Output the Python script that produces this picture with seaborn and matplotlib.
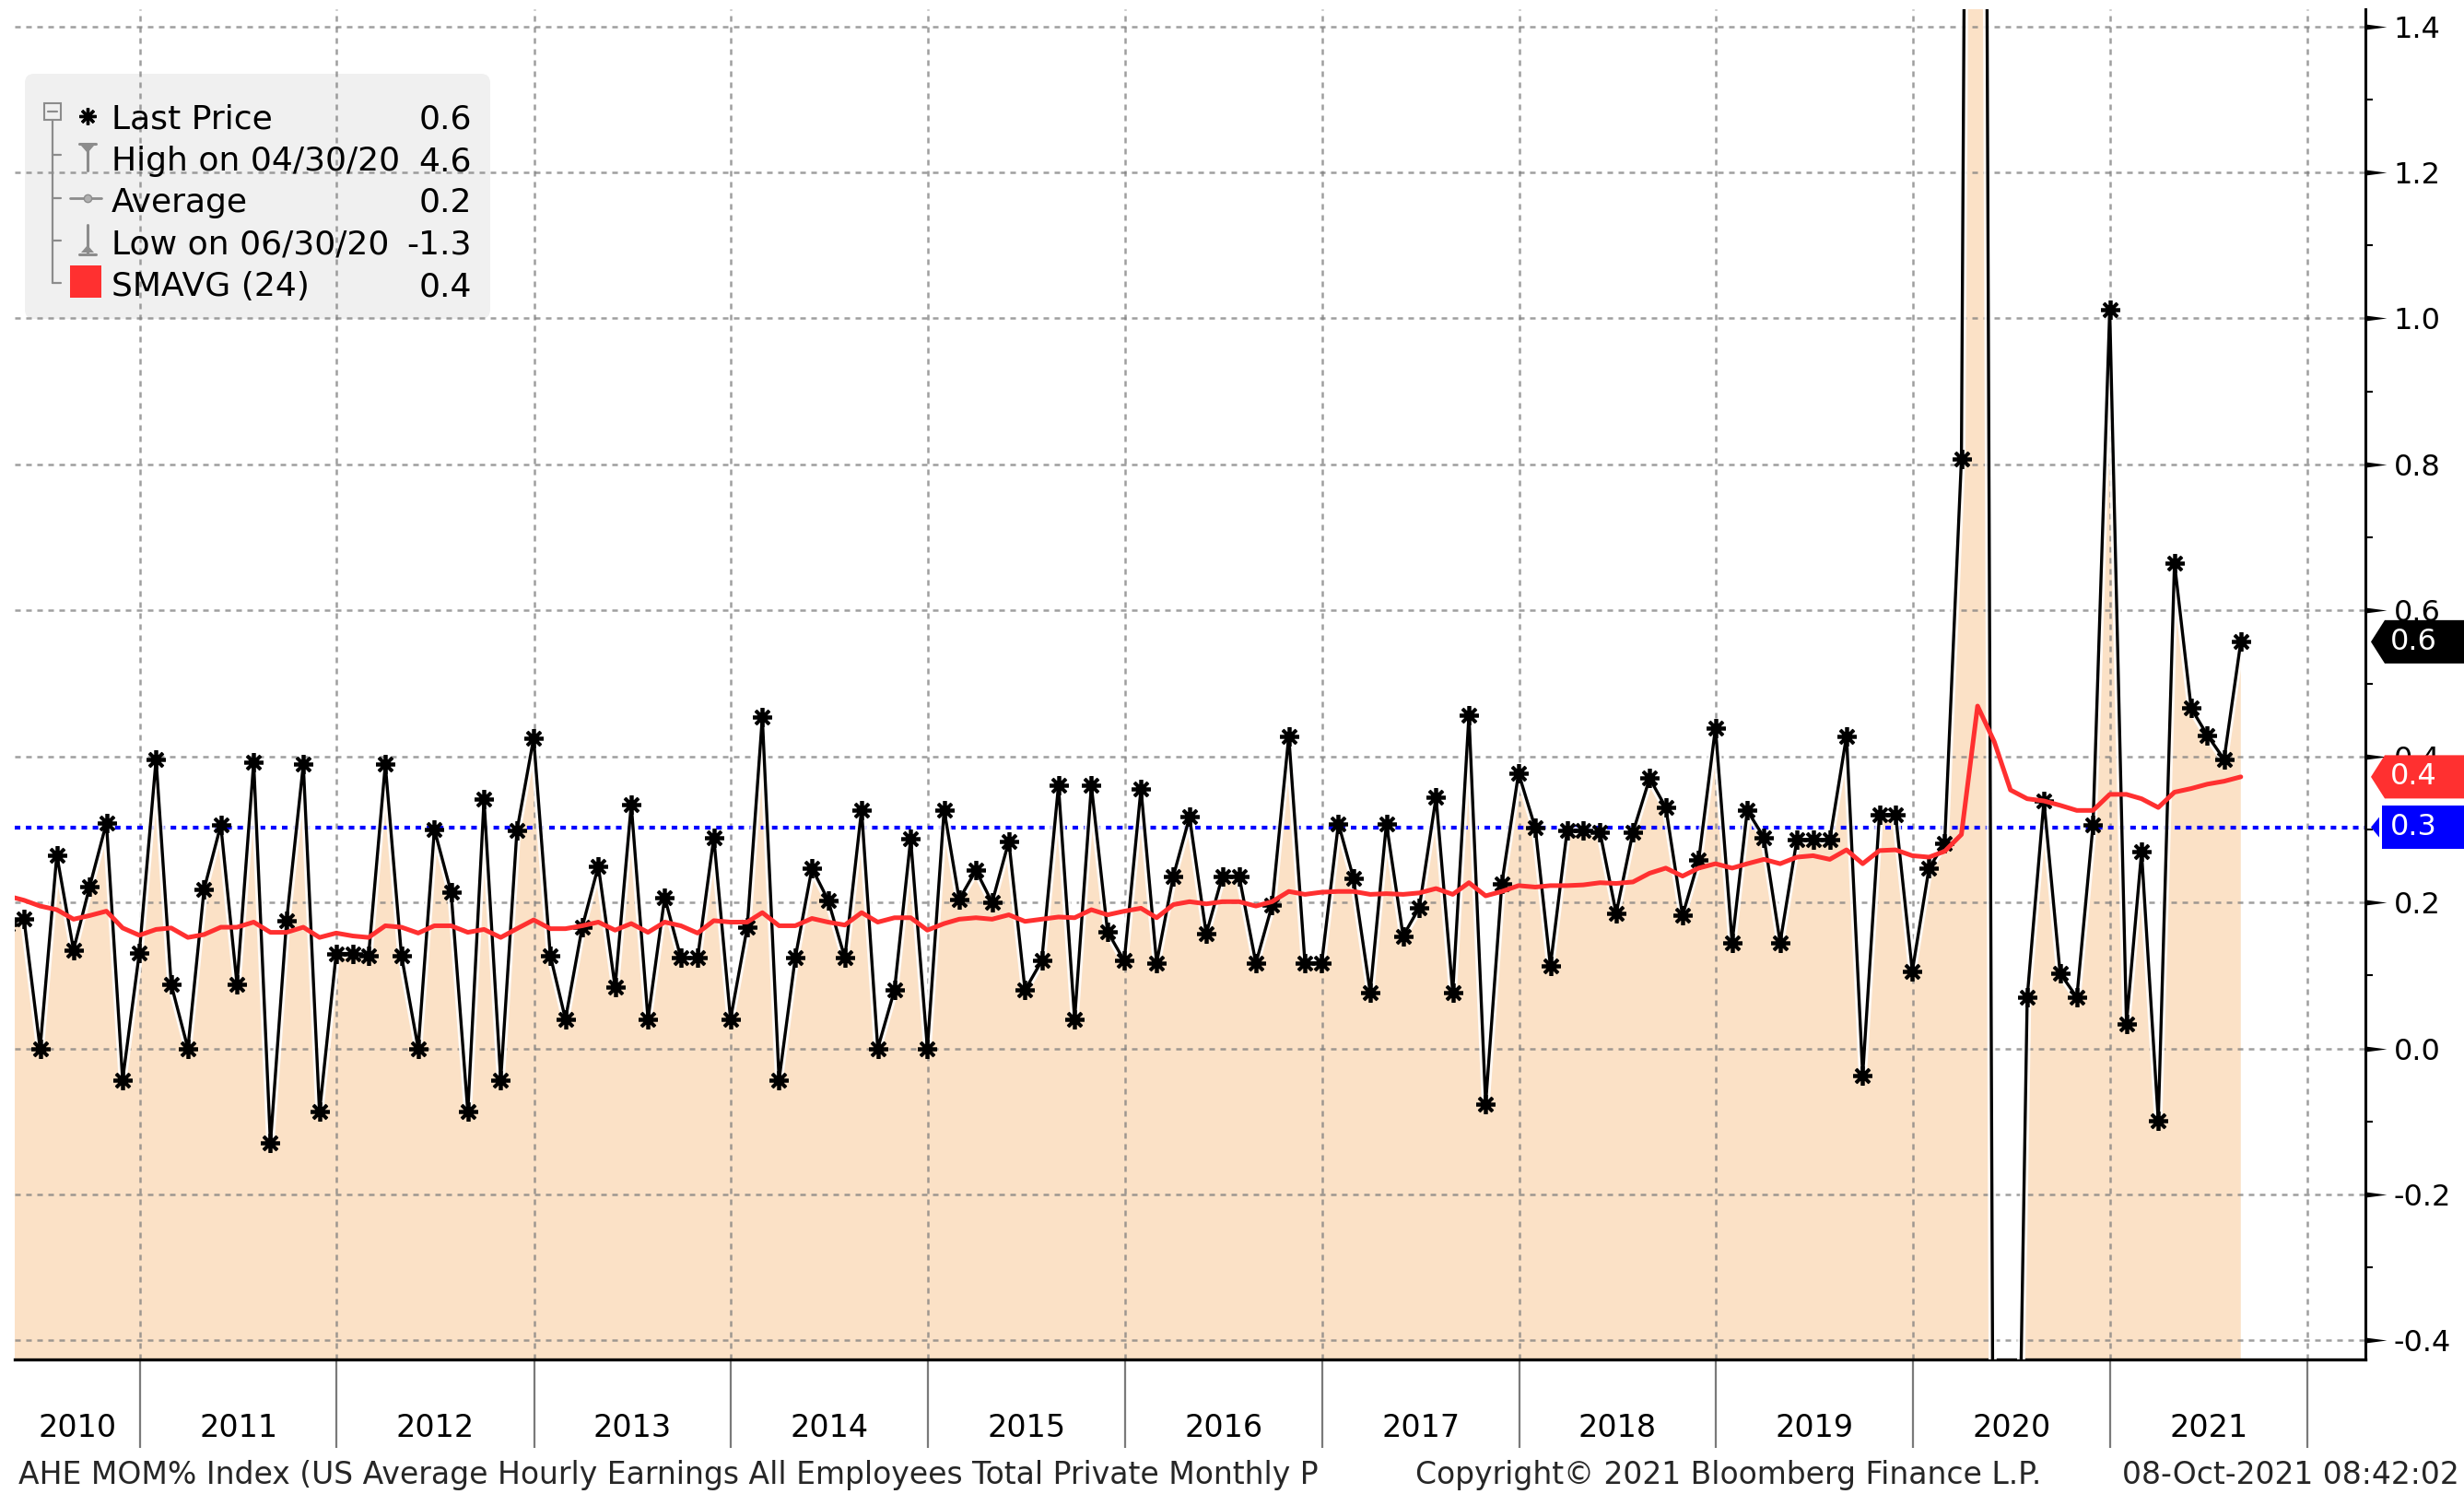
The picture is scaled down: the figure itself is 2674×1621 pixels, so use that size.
import numpy as np
import pandas as pd
import matplotlib
matplotlib.use("Agg")
import matplotlib.pyplot as plt
import matplotlib.dates as mdates
import matplotlib.transforms as mtransforms
import matplotlib.ticker as mticker
import matplotlib.patheffects as pe
from matplotlib.path import Path
from matplotlib.patches import Polygon, Rectangle, FancyBboxPatch
from matplotlib.lines import Line2D
import seaborn as sns

# ---------------- data ----------------
START_MONTH = "2010-04"   # month-end observations

last_price = [
    0.17, 0.178, 0.0, 0.265, 0.135, 0.222, 0.309, -0.043, 0.131,                 # 2010 Apr-Dec
    0.396, 0.088, 0.0, 0.218, 0.306, 0.088, 0.392, -0.130, 0.175, 0.389, -0.087, 0.130,  # 2011
    0.130, 0.127, 0.389, 0.127, 0.0, 0.30, 0.214, -0.087, 0.341, -0.043, 0.298, 0.425,  # 2012
    0.127, 0.040, 0.166, 0.250, 0.084, 0.334, 0.040, 0.207, 0.124, 0.124, 0.289, 0.040, # 2013
    0.166, 0.454, -0.043, 0.124, 0.247, 0.203, 0.124, 0.327, 0.0, 0.080, 0.287, 0.0,    # 2014
    0.327, 0.204, 0.244, 0.200, 0.284, 0.080, 0.120, 0.360, 0.040, 0.360, 0.160, 0.120, # 2015
    0.356, 0.117, 0.236, 0.317, 0.157, 0.236, 0.236, 0.117, 0.196, 0.428, 0.117, 0.117, # 2016
    0.308, 0.233, 0.077, 0.308, 0.154, 0.193, 0.344, 0.077, 0.457, -0.076, 0.226, 0.377, # 2017
    0.302, 0.113, 0.298, 0.298, 0.296, 0.185, 0.296, 0.370, 0.330, 0.182, 0.258, 0.439, # 2018
    0.145, 0.326, 0.289, 0.145, 0.286, 0.286, 0.286, 0.428, -0.037, 0.320, 0.320, 0.106, # 2019
    0.247, 0.281, 0.807, 4.6, -1.0, -1.3, 0.070, 0.339, 0.103, 0.070, 0.306, 1.012,      # 2020
    0.034, 0.269, -0.099, 0.665, 0.466, 0.429, 0.396, 0.557,                            # 2021 Jan-Aug
]

smavg_24 = [
    0.209, 0.203, 0.195, 0.190, 0.177, 0.182, 0.188, 0.165, 0.155,
    0.163, 0.165, 0.152, 0.156, 0.166, 0.166, 0.173, 0.159, 0.159, 0.166, 0.152, 0.158,
    0.154, 0.152, 0.168, 0.166, 0.158, 0.168, 0.168, 0.159, 0.163, 0.152, 0.164, 0.176,
    0.164, 0.164, 0.168, 0.173, 0.162, 0.171, 0.159, 0.173, 0.168, 0.158, 0.175, 0.173,
    0.173, 0.186, 0.168, 0.168, 0.178, 0.173, 0.169, 0.186, 0.173, 0.179, 0.179, 0.162,
    0.171, 0.177, 0.179, 0.177, 0.183, 0.174, 0.177, 0.180, 0.179, 0.190, 0.183, 0.188,
    0.192, 0.179, 0.197, 0.201, 0.198, 0.201, 0.201, 0.195, 0.201, 0.215, 0.211, 0.214,
    0.215, 0.215, 0.211, 0.212, 0.211, 0.213, 0.219, 0.211, 0.227, 0.209, 0.215, 0.223,
    0.221, 0.223, 0.223, 0.224, 0.227, 0.226, 0.228, 0.240, 0.247, 0.236, 0.247, 0.253,
    0.247, 0.253, 0.259, 0.253, 0.262, 0.264, 0.259, 0.272, 0.253, 0.271, 0.272, 0.264,
    0.262, 0.270, 0.293, 0.469, 0.420, 0.354, 0.342, 0.339, 0.333, 0.326, 0.326, 0.348,
    0.348, 0.342, 0.330, 0.351, 0.356, 0.362, 0.366, 0.372,
]

avg_line_value = 0.303
y_ticks = [-0.4, -0.2, 0.0, 0.2, 0.4, 0.6, 0.8, 1.0, 1.2, 1.4]
y_tick_labels = ["-0.4", "-0.2", "0.0", "0.2", "0.4", "0.6", "0.8", "1.0", "1.2", "1.4"]
year_labels = [2010, 2011, 2012, 2013, 2014, 2015, 2016, 2017, 2018, 2019, 2020, 2021]

legend_labels = ["Last Price", "High on 04/30/20", "Average", "Low on 06/30/20", "SMAVG (24)"]
legend_values = ["0.6", "4.6", "0.2", "-1.3", "0.4"]
tag_values = [0.557, 0.372, 0.303]
tag_labels = ["0.6", "0.4", "0.3"]

footer_left = "AHE MOM% Index (US Average Hourly Earnings All Employees Total Private Monthly P"
footer_mid = "Copyright\u00a9 2021 Bloomberg Finance L.P."
footer_right = "08-Oct-2021 08:42:02"

X_START, X_END = "2010-05-14", "2022-04-19"
Y_MIN, Y_MAX = -0.4261, 1.4236

# ---------------- styling ----------------
FILL = "#FBE1C6"
RED = "#FF3030"
BLUE = "#0000FF"
GRID = "#7f7f7f"
ICON_GRAY = "#8c8c8c"

sns.set_style("white")
plt.rcParams["font.family"] = ["DejaVu Sans"]

W, H = 2674, 1621
fig = plt.figure(figsize=(W / 100, H / 100), dpi=100)
fig.patch.set_facecolor("white")
ax = fig.add_axes([16 / W, 1 - 1475 / H, (2567 - 16) / W, (1475 - 10) / H])
ax.set_facecolor("white")

dates = pd.period_range(START_MONTH, periods=len(last_price), freq="M").to_timestamp(how="end").normalize()
df = pd.DataFrame({"date": dates, "last": last_price, "sma": smavg_24})

# area under the price line
ax.fill_between(df["date"], df["last"], Y_MIN - 5, color=FILL, lw=0, zorder=1)

# price line with white halo
sns.lineplot(data=df, x="date", y="last", ax=ax, color="black", lw=2.4, zorder=3,
             path_effects=[pe.Stroke(linewidth=6.4, foreground="white", alpha=0.85), pe.Normal()])
# asterisk markers
sns.lineplot(data=df, x="date", y="last", ax=ax, color="black", linestyle="",
             marker=(8, 2, 0), markersize=15, markeredgewidth=2.7,
             markeredgecolor="black", zorder=3.5)
# 24-month simple moving average
sns.lineplot(data=df, x="date", y="sma", ax=ax, color=RED, lw=3.6, zorder=4)

# blue dotted reference line
ax.axhline(avg_line_value, color=BLUE, lw=3.0, linestyle=(0, (1.45, 1.45)), zorder=2)

# axes limits
ax.set_xlim(pd.Timestamp(X_START), pd.Timestamp(X_END))
ax.set_ylim(Y_MIN, Y_MAX)
ax.set_xlabel("")
ax.set_ylabel("")

# grid above the fill
ax.set_axisbelow("line")
ax.yaxis.grid(True, color=GRID, alpha=0.75, lw=1.8, linestyle=(0, (2.4, 2.4)))
ax.xaxis.grid(True, which="major", color=GRID, alpha=0.75, lw=1.8, linestyle=(0, (2.4, 2.4)))

# spines
for s in ["top", "left"]:
    ax.spines[s].set_visible(False)
ax.spines["bottom"].set_color("black")
ax.spines["bottom"].set_linewidth(2.4)
ax.spines["right"].set_color("black")
ax.spines["right"].set_linewidth(2.2)

# y axis on the right
ax.yaxis.tick_right()
ax.set_yticks(y_ticks)
ax.set_yticklabels(y_tick_labels)
ax.yaxis.set_minor_locator(mticker.FixedLocator(list(np.array(y_ticks[:-1]) + 0.1)))
ax.tick_params(axis="y", which="major", length=16.5, width=0, pad=5.6, labelsize=23,
               labelcolor="black", right=True, left=False)
ax.tick_params(axis="y", which="minor", length=6, width=1.5, color="black", right=True, left=False)

# wedge-shaped major ticks
wedge = Path([(0, -0.13), (0, 0.13), (1, 0), (0, -0.13)],
             [Path.MOVETO, Path.LINETO, Path.LINETO, Path.CLOSEPOLY])
ax.plot(np.ones(len(y_ticks)), y_ticks, transform=ax.get_yaxis_transform(), ls="none",
        marker=wedge, markersize=33, color="black", markeredgewidth=0, clip_on=False, zorder=5)

# x axis: year boundaries as long ticks, labels centred on visible part of each year
ax.xaxis.set_major_locator(mdates.YearLocator())
ax.xaxis.set_major_formatter(mticker.NullFormatter())
x0 = mdates.date2num(pd.Timestamp(X_START))
x1 = mdates.date2num(pd.Timestamp(X_END))
label_pos = []
for yr in year_labels:
    a = max(mdates.date2num(pd.Timestamp(f"{yr}-01-01")), x0)
    b = min(mdates.date2num(pd.Timestamp(f"{yr + 1}-01-01")), x1)
    label_pos.append((a + b) / 2)
ax.xaxis.set_minor_locator(mticker.FixedLocator(label_pos))
ax.xaxis.set_minor_formatter(mticker.FixedFormatter([str(y) for y in year_labels]))
ax.tick_params(axis="x", which="major", direction="out", length=69, width=1.6,
               color="#7a7a7a", bottom=True)
ax.tick_params(axis="x", which="minor", length=0, pad=42, labelsize=24, labelcolor="black",
               bottom=True)

# ---------------- value tags on the right ----------------
def tag(value, label, color, arrow):
    tr = fig.dpi_scale_trans + mtransforms.ScaledTranslation(1.0, value, ax.get_yaxis_transform())
    hh = 23.5
    if arrow == "full":
        verts = [(6, 0), (21, hh), (107, hh), (107, -hh), (21, -hh)]
        ax.add_patch(Polygon(np.array(verts) / 100.0, closed=True, transform=tr, fc=color,
                             ec="none", clip_on=False, zorder=6))
    else:
        tri = [(6, 0), (15, 11), (15, -11)]
        ax.add_patch(Polygon(np.array(tri) / 100.0, closed=True, transform=tr, fc=color,
                             ec="none", clip_on=False, zorder=6))
        box = [(18, -hh), (18, hh), (107, hh), (107, -hh)]
        ax.add_patch(Polygon(np.array(box) / 100.0, closed=True, transform=tr, fc=color,
                             ec="none", clip_on=False, zorder=6))
    ax.text(0.265, 0, label, transform=tr, color="white", fontsize=23, ha="left",
            va="center", clip_on=False, zorder=7)

tag(tag_values[0], tag_labels[0], "black", "full")
tag(tag_values[1], tag_labels[1], RED, "full")
tag(tag_values[2], tag_labels[2], BLUE, "split")

# ---------------- legend panel (pixel coordinates, top-left origin) ----------------
px = mtransforms.Affine2D().scale(1 / W, -1 / H).translate(0, 1) + fig.transFigure

ax.add_patch(FancyBboxPatch((27, 80), 505, 266, boxstyle="round,pad=0,rounding_size=10",
                            transform=px, fc="#F0F0F0", ec="none", zorder=1.2, clip_on=False))

def pline(xs, ys, color=ICON_GRAY, lw=1.6, z=6):
    ax.add_line(Line2D(xs, ys, transform=px, color=color, lw=lw, clip_on=False, zorder=z))

# tree structure
ax.add_patch(Rectangle((48, 112), 18, 18, transform=px, fill=False, ec=ICON_GRAY, lw=1.5,
                       clip_on=False, zorder=6))
pline([52, 62], [121, 121])
pline([57, 57], [130, 307])
for yy in [168, 215, 261, 307]:
    pline([57, 66], [yy, yy])

# icons
ax.plot([95], [126], transform=px, marker=(8, 2, 0), markersize=13, markeredgewidth=2.4,
        color="black", clip_on=False, zorder=6)
pline([86, 104], [156, 156], lw=2.2)
ax.add_patch(Polygon([(88, 158), (102, 158), (95, 166)], transform=px, fc=ICON_GRAY,
                     ec="none", clip_on=False, zorder=6))
pline([95, 95], [156, 185], lw=2.2)
pline([76, 110], [215, 215], lw=2.0)
ax.plot([95], [215], transform=px, marker="o", markersize=6, color="#b0b0b0",
        markeredgecolor=ICON_GRAY, clip_on=False, zorder=6)
pline([95, 95], [244, 276], lw=2.2)
pline([86, 104], [276, 276], lw=2.2)
ax.add_patch(Polygon([(88, 274), (102, 274), (95, 266)], transform=px, fc=ICON_GRAY,
                     ec="none", clip_on=False, zorder=6))
ax.add_patch(Rectangle((76, 288), 34, 35, transform=px, fc=RED, ec="none",
                       clip_on=False, zorder=6))

row_baselines = [140, 185, 230, 275.5, 321]
for lab, val, yb in zip(legend_labels, legend_values, row_baselines):
    ax.text(121, yb, lab, transform=px, fontsize=26, ha="left", va="baseline",
            color="black", clip_on=False, zorder=6)
    ax.text(512, yb, val, transform=px, fontsize=26, ha="right", va="baseline",
            color="black", clip_on=False, zorder=6)

# ---------------- footer ----------------
fig.text(20, 1610, footer_left, transform=px, fontsize=23.8, ha="left", va="baseline")
fig.text(1876, 1610, footer_mid, transform=px, fontsize=23.8, ha="center", va="baseline")
fig.text(2669, 1610, footer_right, transform=px, fontsize=23.8, ha="right", va="baseline")

fig.savefig("out.png", dpi=100, facecolor="white")
